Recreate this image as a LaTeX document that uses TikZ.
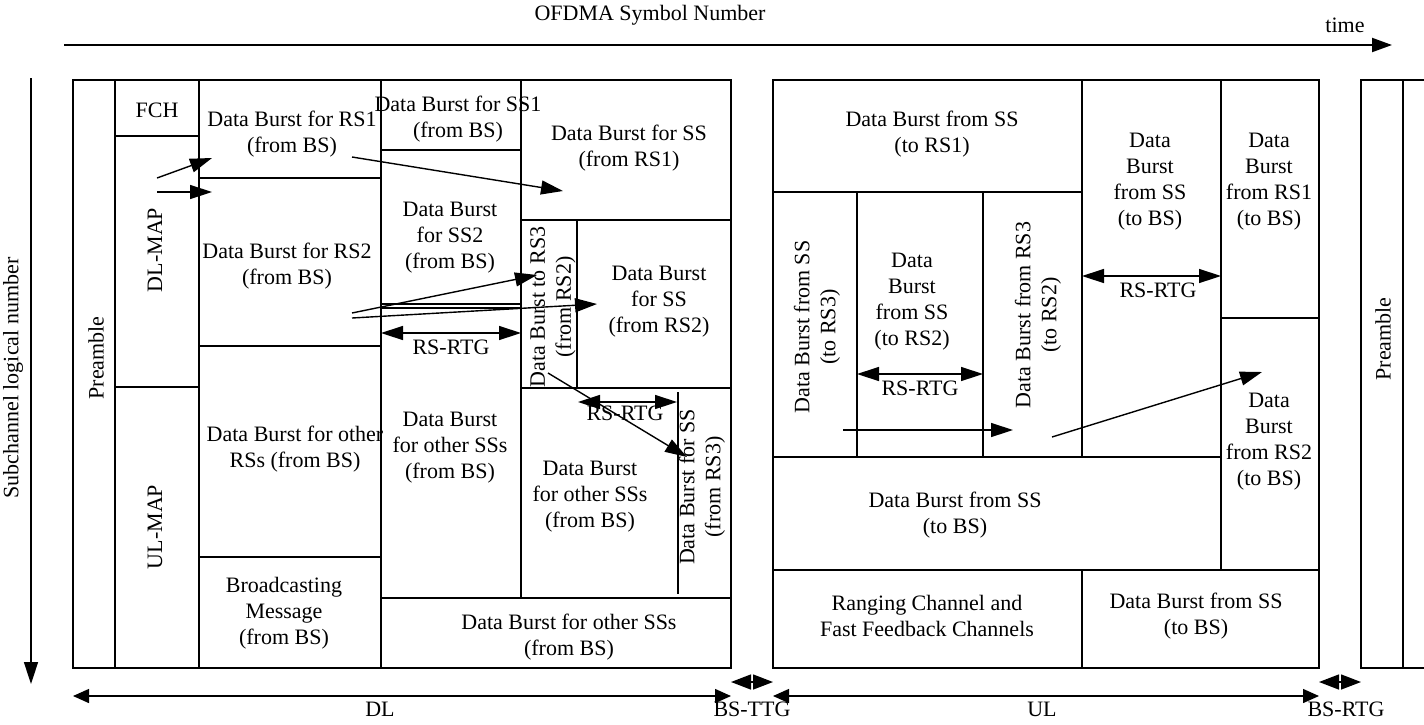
\documentclass[tikz,border=0pt]{standalone}
\usepackage{fontspec}
\setmainfont{Liberation Serif}
\usetikzlibrary{arrows.meta}
\begin{document}
\begin{tikzpicture}[x=1pt,y=-1pt,
  frame/.style={line width=1.5pt},
  txt/.style={font=\fontsize{22}{26}\selectfont, align=center, inner sep=0pt},
  rtxt/.style={txt, rotate=90},
  arr/.style={line width=1.4pt, -{Triangle[length=22pt,width=14pt]}},
  darr/.style={line width=1.4pt, {Triangle[length=22pt,width=14pt]}-{Triangle[length=22pt,width=14pt]}},
  span/.style={line width=1.4pt, {Triangle[length=16pt,width=14pt]}-{Triangle[length=16pt,width=14pt]}},
  gap/.style={line width=1.4pt, {Triangle[length=20pt,width=15pt]}-{Triangle[length=20pt,width=15pt]}}
]
\useasboundingbox (0,0) rectangle (1424,724);
\fill[white] (0,0) rectangle (1424,724);

% ---------- axes ----------
\coordinate (tS) at (64,45); \coordinate (tE) at (1392,45);
\draw[line width=2pt, -{Triangle[length=20pt,width=14pt]}] (tS) -- (tE);
\node[txt] (ofdma) at (650,15) {OFDMA Symbol Number};
\node[txt] (time) at (1345,25) {time};
\coordinate (sS) at (31,78); \coordinate (sE) at (31,684);
\draw[line width=1.5pt, -{Triangle[length=22pt,width=14pt]}] (sS) -- (sE);
\node[rtxt] (sub) at (13,378) {Subchannel logical number};

% ---------- DL frame ----------
\draw[frame] (73,80) rectangle (731,668);
\draw[frame] (115,80) -- (115,668);
\draw[frame] (199,80) -- (199,668);
\draw[frame] (381,80) -- (381,668);
\draw[frame] (521,80) -- (521,598);
\draw[frame] (115,136) -- (199,136);
\draw[frame] (115,387) -- (199,387);
\draw[frame] (199,178) -- (381,178);
\draw[frame] (199,346) -- (381,346);
\draw[frame] (199,557) -- (381,557);
\draw[frame] (381,150) -- (521,150);
\draw[frame] (381,304) -- (521,304);
\draw[frame] (381,308) -- (521,308);
\draw[frame] (381,598) -- (731,598);
\draw[frame] (521,220) -- (731,220);
\draw[frame] (577,220) -- (577,388);
\draw[frame] (521,388) -- (731,388);
\draw[frame] (678,392) -- (678,594);

% DL texts
\node[rtxt] (pre1) at (96,358) {Preamble};
\node[txt] (fch) at (157,110) {FCH};
\node[rtxt] (dlmap) at (155,250) {DL-MAP};
\node[rtxt] (ulmap) at (155,527) {UL-MAP};
\node[txt] (rs1) at (292,134) {Data Burst for RS1\\(from BS)};
\node[txt] (rs2) at (287,266) {Data Burst for RS2\\(from BS)};
\node[txt] (ors) at (295,449) {Data Burst for other\\RSs (from BS)};
\node[txt] (bc) at (284,613) {Broadcasting\\Message\\(from BS)};
\node[txt] (ss1) at (458,119) {Data Burst for SS1\\(from BS)};
\node[txt] (ss2) at (450,238) {Data Burst\\for SS2\\(from BS)};
\node[txt] (oss1) at (450,448) {Data Burst\\for other SSs\\(from BS)};
\node[txt] (ssr1) at (629,148) {Data Burst for SS\\(from RS1)};
\node[rtxt] (rs3) at (553,307) {Data Burst to RS3\\(from RS2)};
\node[txt] (ssr2) at (659,302) {Data Burst\\for SS\\(from RS2)};
\node[txt] (oss2) at (590,497) {Data Burst\\for other SSs\\(from BS)};
\node[rtxt] (ssr3) at (702,487) {Data Burst for SS\\(from RS3)};
\node[txt] (oss3) at (569,637) {Data Burst for other SSs\\(from BS)};

% DL arrows
\coordinate (m1) at (157,178); \coordinate (m1e) at (212,158);
\coordinate (m2) at (157,192); \coordinate (m2e) at (212,192);
\draw[arr] (m1) -- (m1e);
\draw[arr] (m2) -- (m2e);
\coordinate (r1s) at (352,157); \coordinate (r1e) at (563,191);
\draw[arr] (r1s) -- (r1e);
\coordinate (r2s) at (352,313); \coordinate (r2e) at (537,275);
\coordinate (r3s) at (352,318); \coordinate (r3e) at (597,304);
\draw[arr] (r2s) -- (r2e);
\draw[arr] (r3s) -- (r3e);
\coordinate (d1s) at (548,373); \coordinate (d1e) at (687,457);
\draw[arr] (d1s) -- (d1e);
\coordinate (g1a) at (381,333); \coordinate (g1b) at (521,333);
\draw[darr] (g1a) -- (g1b);
\node[txt] (g1) at (451,347) {RS-RTG};
\coordinate (g2a) at (578,402); \coordinate (g2b) at (677,402);
\draw[darr] (g2a) -- (g2b);
\node[txt] (g2) at (625,413) {RS-RTG};

% ---------- UL frame ----------
\draw[frame] (773,80) rectangle (1319,668);
\draw[frame] (773,192) -- (1082,192);
\draw[frame] (1082,80) -- (1082,457);
\draw[frame] (857,192) -- (857,457);
\draw[frame] (983,192) -- (983,457);
\draw[frame] (773,457) -- (1221,457);
\draw[frame] (1221,80) -- (1221,570);
\draw[frame] (1221,318) -- (1319,318);
\draw[frame] (773,570) -- (1319,570);
\draw[frame] (1082,570) -- (1082,668);

% UL texts
\node[txt] (u1) at (932,134) {Data Burst from SS\\(to RS1)};
\node[rtxt] (u2) at (817,327) {Data Burst from SS\\(to RS3)};
\node[txt] (u3) at (912,302) {Data\\Burst\\from SS\\(to RS2)};
\node[rtxt] (u4) at (1038,315) {Data Burst from RS3\\(to RS2)};
\node[txt] (u5) at (1150,182) {Data\\Burst\\from SS\\(to BS)};
\node[txt] (u6) at (1269,182) {Data\\Burst\\from RS1\\(to BS)};
\node[txt] (u7) at (1269,442) {Data\\Burst\\from RS2\\(to BS)};
\node[txt] (u8) at (955,515) {Data Burst from SS\\(to BS)};
\node[txt] (u9) at (927,616) {Ranging Channel and\\Fast Feedback Channels};
\node[txt] (u10) at (1196,616) {Data Burst from SS\\(to BS)};

% UL arrows
\coordinate (g3a) at (857,374); \coordinate (g3b) at (983,374);
\draw[darr] (g3a) -- (g3b);
\node[txt] (g3) at (920,388) {RS-RTG};
\coordinate (g4a) at (1082,276); \coordinate (g4b) at (1221,276);
\draw[darr] (g4a) -- (g4b);
\node[txt] (g4) at (1158,290) {RS-RTG};
\coordinate (h1s) at (843,430); \coordinate (h1e) at (1013,430);
\draw[arr] (h1s) -- (h1e);
\coordinate (h2s) at (1052,437); \coordinate (h2e) at (1262,372);
\draw[arr] (h2s) -- (h2e);

% ---------- next frame preamble ----------
\draw[frame] (1424,80) -- (1361,80) -- (1361,668) -- (1424,668);
\draw[frame] (1403,80) -- (1403,668);
\node[rtxt] (pre2) at (1383,339) {Preamble};

% ---------- bottom span arrows ----------
\coordinate (dlA) at (73,696); \coordinate (dlB) at (731,696);
\draw[span] (dlA) -- (dlB);
\node[txt] (dl) at (380,709) {DL};
\coordinate (ttA) at (731,682); \coordinate (ttB) at (773,682);
\draw[gap] (ttA) -- (ttB);
\node[txt] (ttg) at (752,709) {BS-TTG};
\coordinate (ulA) at (773,696); \coordinate (ulB) at (1319,696);
\draw[span] (ulA) -- (ulB);
\node[txt] (ul) at (1042,709) {UL};
\coordinate (rtA) at (1319,682); \coordinate (rtB) at (1361,682);
\draw[gap] (rtA) -- (rtB);
\node[txt] (rtg) at (1346,709) {BS-RTG};
\end{tikzpicture}
\end{document}
